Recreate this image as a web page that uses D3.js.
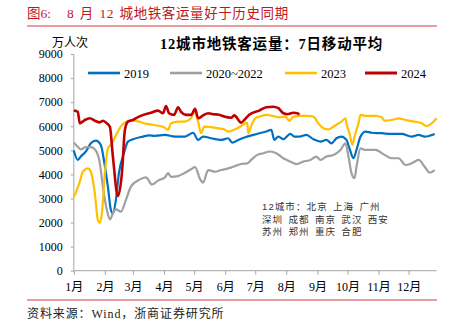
<!DOCTYPE html>
<html>
<head>
<meta charset="utf-8">
<script src="https://cdn.jsdelivr.net/npm/d3@7"></script>
<style>
  body { margin: 0; background: #fff; }
  svg { display: block; }
</style>
</head>
<body>
<script>
// 7-day moving average of metro ridership, 12 cities (10k trips)
const series2019 = [
  ["01-01", 4990], ["01-05", 4600], ["01-08", 4740], ["01-13", 4950], ["01-18", 5290],
  ["01-23", 5400], ["01-28", 5220], ["01-31", 4600], ["02-04", 3490], ["02-07", 2520],
  ["02-09", 2380], ["02-12", 2940], ["02-15", 4050], ["02-20", 4880], ["02-24", 5360],
  ["03-01", 5460], ["03-11", 5570], ["03-17", 5620], ["03-23", 5600], ["04-02", 5640],
  ["04-12", 5570], ["04-22", 5570], ["04-30", 5730], ["05-05", 5430], ["05-10", 5570],
  ["05-18", 5500], ["05-28", 5430], ["06-04", 5500], ["06-08", 5320], ["06-14", 5430],
  ["06-21", 5540], ["06-29", 5640], ["07-05", 5710], ["07-12", 5780], ["07-17", 5850],
  ["07-20", 5430], ["07-24", 5570], ["07-29", 5460], ["08-05", 5680], ["08-09", 5570],
  ["08-14", 5570], ["08-21", 5640], ["08-28", 5460], ["09-04", 5360], ["09-10", 5430],
  ["09-15", 5290], ["09-20", 5500], ["09-25", 5570], ["09-30", 5430], ["10-03", 5080],
  ["10-07", 4670], ["10-10", 5015], ["10-14", 5570], ["10-19", 5780], ["10-25", 5730],
  ["11-04", 5710], ["11-14", 5680], ["11-24", 5680], ["12-04", 5570], ["12-11", 5640],
  ["12-17", 5570], ["12-27", 5680]
];
const series2020_2022 = [
  ["01-01", 5320], ["01-05", 5150], ["01-08", 5040], ["01-13", 5130], ["01-18", 5130],
  ["01-23", 4990], ["01-27", 4460], ["01-30", 3490], ["02-03", 2520], ["02-06", 2130],
  ["02-09", 2380], ["02-12", 2550], ["02-17", 2450], ["02-22", 2940], ["02-27", 3490],
  ["03-07", 3770], ["03-14", 3880], ["03-20", 3580], ["03-26", 3740], ["04-02", 3880],
  ["04-05", 4050], ["04-08", 3900], ["04-15", 3930], ["04-21", 4050], ["04-28", 4210],
  ["05-02", 4300], ["05-07", 3800], ["05-10", 3660], ["05-15", 4180], ["05-22", 4110],
  ["05-28", 4180], ["06-04", 4250], ["06-11", 4350], ["06-17", 4430], ["06-23", 4460],
  ["06-27", 4600], ["07-03", 4810], ["07-09", 4880], ["07-16", 4950], ["07-22", 4880],
  ["07-29", 4670], ["08-05", 4530], ["08-11", 4430], ["08-18", 4530], ["08-25", 4600],
  ["08-31", 4740], ["09-04", 4600], ["09-10", 4740], ["09-17", 4810], ["09-24", 5015],
  ["09-29", 5290], ["10-02", 4740], ["10-05", 4050], ["10-08", 3840], ["10-10", 4320],
  ["10-14", 5080], ["10-19", 5015], ["10-29", 5015], ["11-07", 4810], ["11-14", 4670],
  ["11-21", 4670], ["11-28", 4390], ["12-04", 4460], ["12-11", 4600], ["12-17", 4320],
  ["12-22", 4070], ["12-27", 4180]
];
const series2023 = [
  ["01-01", 3050], ["01-04", 3350], ["01-07", 3700], ["01-10", 4110], ["01-15", 4250],
  ["01-18", 4110], ["01-22", 3210], ["01-25", 2100], ["01-27", 1990], ["01-29", 2380],
  ["02-01", 4050], ["02-04", 5080], ["02-08", 5290], ["02-13", 5710], ["02-18", 6050],
  ["02-23", 6190], ["03-01", 6230], ["03-07", 6190], ["03-12", 6120], ["03-22", 6050],
  ["04-01", 5960], ["04-05", 5850], ["04-08", 6120], ["04-15", 6190], ["04-21", 6190],
  ["04-28", 6330], ["05-01", 6610], ["05-05", 6190], ["05-08", 5710], ["05-11", 5980],
  ["05-18", 5960], ["05-25", 5910], ["05-31", 5870], ["06-04", 5780], ["06-11", 5870],
  ["06-17", 6010], ["06-20", 6100], ["06-23", 6150], ["06-24", 5710], ["06-28", 6120],
  ["07-01", 6330], ["07-05", 6400], ["07-12", 6470], ["07-18", 6430], ["07-25", 6370],
  ["07-31", 6400], ["08-04", 6230], ["08-08", 6400], ["08-14", 6430], ["08-21", 6430],
  ["08-28", 6400], ["09-02", 6120], ["09-07", 5910], ["09-12", 5870], ["09-17", 5980],
  ["09-22", 6120], ["09-25", 6190], ["09-29", 6330], ["09-30", 6120], ["10-03", 5710],
  ["10-06", 5220], ["10-08", 5570], ["10-12", 6120], ["10-14", 6470], ["10-19", 6430],
  ["10-29", 6430], ["11-04", 6370], ["11-07", 6230], ["11-14", 6260], ["11-21", 6330],
  ["11-28", 6260], ["12-07", 6190], ["12-14", 6120], ["12-19", 6010], ["12-24", 6120],
  ["12-29", 6330]
];
const series2024 = [
  ["01-01", 6650], ["01-05", 6600], ["01-07", 6120], ["01-12", 6260], ["01-17", 6330],
  ["01-22", 6230], ["01-27", 6160], ["01-30", 6230], ["02-03", 6120], ["02-06", 5980],
  ["02-09", 4740], ["02-14", 3100], ["02-18", 4050], ["02-21", 5850], ["02-24", 6190],
  ["03-01", 6260], ["03-07", 6400], ["03-17", 6540], ["03-19", 6560], ["03-26", 6650],
  ["03-31", 6540], ["04-03", 6840], ["04-06", 6540], ["04-11", 6470], ["04-15", 6790],
  ["04-18", 6600], ["04-23", 6470], ["04-28", 6470], ["05-02", 6720], ["05-05", 6330],
  ["05-10", 6450], ["05-15", 6540], ["05-20", 6500], ["05-26", 6480], ["05-31", 6400],
  ["06-07", 6350], ["06-10", 6450], ["06-17", 6150], ["06-20", 6260], ["06-25", 6480],
  ["07-05", 6650], ["07-12", 6790], ["07-19", 6810], ["07-24", 6750], ["07-29", 6540],
  ["08-02", 6500], ["08-08", 6560], ["08-12", 6540], ["08-14", 6480]
];

const seriesNames = ["2019", "2020~2022", "2023", "2024"];
const seriesData = [series2019, series2020_2022, series2023, series2024];
const seriesColors = ["#0070C0", "#A0A0A0", "#FFC000", "#C00000"];
const monthLabels = ["1月","2月","3月","4月","5月","6月","7月","8月","9月","10月","11月","12月"];
const yTicks = [0, 1000, 2000, 3000, 4000, 5000, 6000, 7000, 8000, 9000];
const cityNote = ["12城市：北京 上海 广州", "深圳 成都 南京 武汉 西安", "苏州 郑州 重庆 合肥"];

const width = 453, height = 325;
const serif = "'Liberation Serif', 'Noto Sans CJK SC', serif";
const parse = d3.timeParse("%Y-%m-%d");
const day = s => parse("2023-" + s);

const svg = d3.select("body").append("svg")
    .attr("width", width)
    .attr("height", height)
    .attr("font-family", serif);

// report header and footer
svg.append("text")
    .attr("x", 27).attr("y", 18)
    .attr("fill", "#C0171C")
    .attr("font-size", 13.5)
    .text("图6:");
svg.append("text")
    .attr("x", 67).attr("y", 18)
    .attr("fill", "#C0171C")
    .attr("font-size", 13.5)
    .attr("letter-spacing", 0.6)
    .attr("word-spacing", 1.5)
    .text("8 月 12 城地铁客运量好于历史同期");
svg.append("line")
    .attr("x1", 27).attr("x2", 437).attr("y1", 26).attr("y2", 26)
    .attr("stroke", "#D23F3F").attr("stroke-width", 1);
svg.append("line")
    .attr("x1", 27).attr("x2", 437).attr("y1", 300).attr("y2", 300)
    .attr("stroke", "#D23F3F").attr("stroke-width", 1);
svg.append("text")
    .attr("x", 27).attr("y", 318)
    .attr("fill", "#222")
    .attr("font-size", 12)
    .attr("letter-spacing", 0.9)
    .text("资料来源：Wind，浙商证券研究所");

// chart title and unit
svg.append("text")
    .attr("x", 160).attr("y", 49)
    .attr("font-size", 14.5)
    .attr("font-weight", "bold")
    .attr("letter-spacing", 0.8)
    .text("12城市地铁客运量：7日移动平均");
svg.append("text")
    .attr("x", 70).attr("y", 47)
    .attr("text-anchor", "middle")
    .attr("font-size", 12)
    .text("万人次");

const x = d3.scaleTime()
    .domain([day("01-01"), day("12-29")])
    .range([73.8, 436.7]);
const y = d3.scaleLinear()
    .domain([0, 9000])
    .range([270.7, 54]);

const yAxis = svg.append("g")
    .attr("transform", "translate(73.8,0)")
    .call(d3.axisLeft(y).tickValues(yTicks).tickSize(3).tickPadding(8).tickFormat(d3.format("d")));
yAxis.select(".domain").attr("stroke", "#A6A6A6").attr("d", `M0,${y(9000)}V${y(0)}`);
yAxis.selectAll(".tick line").attr("stroke", "#A6A6A6");
yAxis.selectAll("text").attr("font-size", 12).attr("font-family", serif).attr("fill", "#000");

const months = d3.timeMonth.range(day("01-01"), day("12-29"));
const xAxis = svg.append("g")
    .attr("transform", `translate(0,${y(0)})`)
    .call(d3.axisBottom(x).tickValues(months).tickSize(4).tickPadding(8)
        .tickFormat((d, i) => monthLabels[i]));
xAxis.select(".domain").attr("stroke", "#A6A6A6").attr("d", `M${x.range()[0]},0H${x.range()[1]}`);
xAxis.selectAll(".tick line").attr("stroke", "#A6A6A6");
xAxis.selectAll("text").attr("font-size", 12).attr("font-family", serif).attr("fill", "#000");

// lines
const line = d3.line()
    .x(d => x(day(d[0])))
    .y(d => y(d[1]))
    .curve(d3.curveMonotoneX);

svg.append("g").selectAll("path")
  .data(seriesData)
  .join("path")
    .attr("fill", "none")
    .attr("stroke", (d, i) => seriesColors[i])
    .attr("stroke-width", (d, i) => i === 3 ? 2.6 : 2.2)
    .attr("stroke-linejoin", "round")
    .attr("d", line);

// legend
const legendX = [88, 170, 285, 365];
const legend = svg.append("g").selectAll("g")
  .data(seriesNames)
  .join("g")
    .attr("transform", (d, i) => `translate(${legendX[i]},73)`);
legend.append("line")
    .attr("x2", 32)
    .attr("stroke", (d, i) => seriesColors[i])
    .attr("stroke-width", (d, i) => i === 3 ? 3 : 2.6);
legend.append("text")
    .attr("x", 36).attr("y", 4.5)
    .attr("font-size", 12.5)
    .text(d => d);

// city note
svg.append("g").selectAll("text")
  .data(cityNote)
  .join("text")
    .attr("x", 262)
    .attr("y", (d, i) => 210 + i * 12.5)
    .attr("font-size", 9.5)
    .attr("fill", "#333")
    .attr("letter-spacing", 1.1)
    .attr("word-spacing", 1.5)
    .attr("font-family", "'Liberation Sans', 'Noto Sans CJK SC', sans-serif")
    .text(d => d);
</script>
</body>
</html>
